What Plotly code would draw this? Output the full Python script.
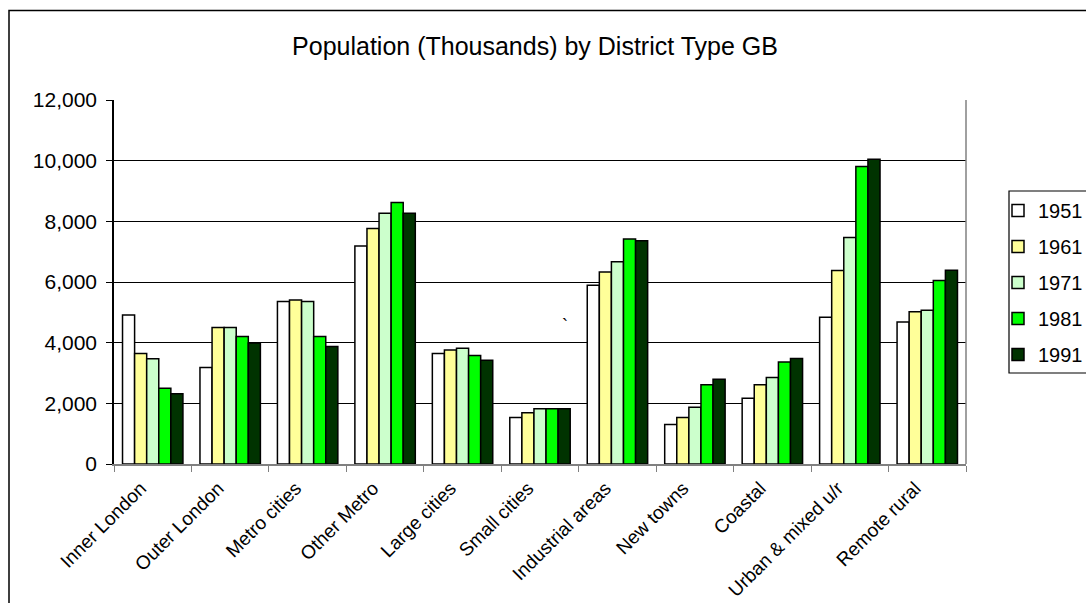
import plotly.graph_objects as go

categories = ["Inner London", "Outer London", "Metro cities", "Other Metro", "Large cities",
              "Small cities", "Industrial areas", "New towns", "Coastal",
              "Urban & mixed u/r", "Remote rural"]
years = ["1951", "1961", "1971", "1981", "1991"]
pop_1951 = [4910, 3180, 5360, 7190, 3640, 1530, 5890, 1300, 2170, 4840, 4680]
pop_1961 = [3640, 4500, 5410, 7760, 3760, 1690, 6330, 1530, 2610, 6380, 5020]
pop_1971 = [3470, 4500, 5360, 8270, 3820, 1820, 6670, 1870, 2850, 7470, 5070]
pop_1981 = [2500, 4200, 4200, 8620, 3580, 1820, 7420, 2610, 3360, 9810, 6050]
pop_1991 = [2320, 3990, 3870, 8270, 3420, 1820, 7360, 2790, 3480, 10050, 6390]
series = [pop_1951, pop_1961, pop_1971, pop_1981, pop_1991]
colors = ["#FFFFFF", "#FFFF99", "#CCFFCC", "#00FF00", "#003300"]
y_tickvals = [0, 2000, 4000, 6000, 8000, 10000, 12000]

FONT = "Liberation Sans, Arial, sans-serif"
W, H = 1086, 603
L, R, T, B = 114, 120, 100, 139
pw, ph = W - L - R, H - T - B

def px(x):
    return (x - L) / pw

def py(y):
    return (H - B - y) / ph

fig = go.Figure()
for yr, vals, col in zip(years, series, colors):
    fig.add_trace(go.Bar(
        name=yr, x=categories, y=vals, legendgroup=yr,
        marker=dict(color=col, line=dict(color="#000000", width=1.5)),
    ))

fig.update_layout(
    width=W, height=H,
    margin=dict(l=L, r=R, t=T, b=B, autoexpand=False),
    paper_bgcolor="white", plot_bgcolor="white",
    barmode="group", bargap=0.22, bargroupgap=0,
    font=dict(family=FONT, size=20, color="black"),
    title=dict(text="Population (Thousands) by District Type GB",
               x=535 / W, xanchor="center", xref="container",
               y=1 - 46 / H, yanchor="middle", yref="container",
               font=dict(size=25, family=FONT, color="black")),
    showlegend=True,
    legend=dict(x=px(998), xanchor="left", y=py(191), yanchor="top",
                bgcolor="rgba(0,0,0,0)", borderwidth=0,
                font=dict(size=20, family=FONT), tracegroupgap=7,
                traceorder="grouped"),
    xaxis=dict(type="category", showline=True, linecolor="#808080", linewidth=1.5,
               ticks="outside", ticklen=6, tickcolor="#808080", tickwidth=1,
               tickson="boundaries", tickangle=-45, showgrid=False,
               ticklabelstandoff=4, ticklabelshift=-12,
               tickfont=dict(size=19, family=FONT)),
    yaxis=dict(range=[0, 12000], tickvals=y_tickvals, tickformat=",d",
               showline=True, linecolor="#000000", linewidth=1.5,
               ticks="outside", ticklen=6, tickcolor="#000000",
               showgrid=True, gridcolor="#000000", gridwidth=1,
               zeroline=False, ticklabelstandoff=5,
               tickfont=dict(size=21, family=FONT)),
    shapes=[
        dict(type="line", xref="paper", yref="paper", x0=1, x1=1, y0=0, y1=1,
             line=dict(color="#808080", width=1.5)),
        dict(type="rect", xref="paper", yref="paper",
             x0=px(9), x1=px(1100), y0=py(10.5), y1=py(620),
             line=dict(color="#000000", width=1.5)),
        dict(type="rect", xref="paper", yref="paper",
             x0=px(1009), x1=px(1100), y0=py(191), y1=py(373),
             line=dict(color="#000000", width=1.2)),
    ],
    annotations=[
        dict(text="`", x=px(565), y=py(326), xref="paper", yref="paper",
             showarrow=False, font=dict(size=18, family=FONT)),
    ],
)

fig.write_html("out.html")
